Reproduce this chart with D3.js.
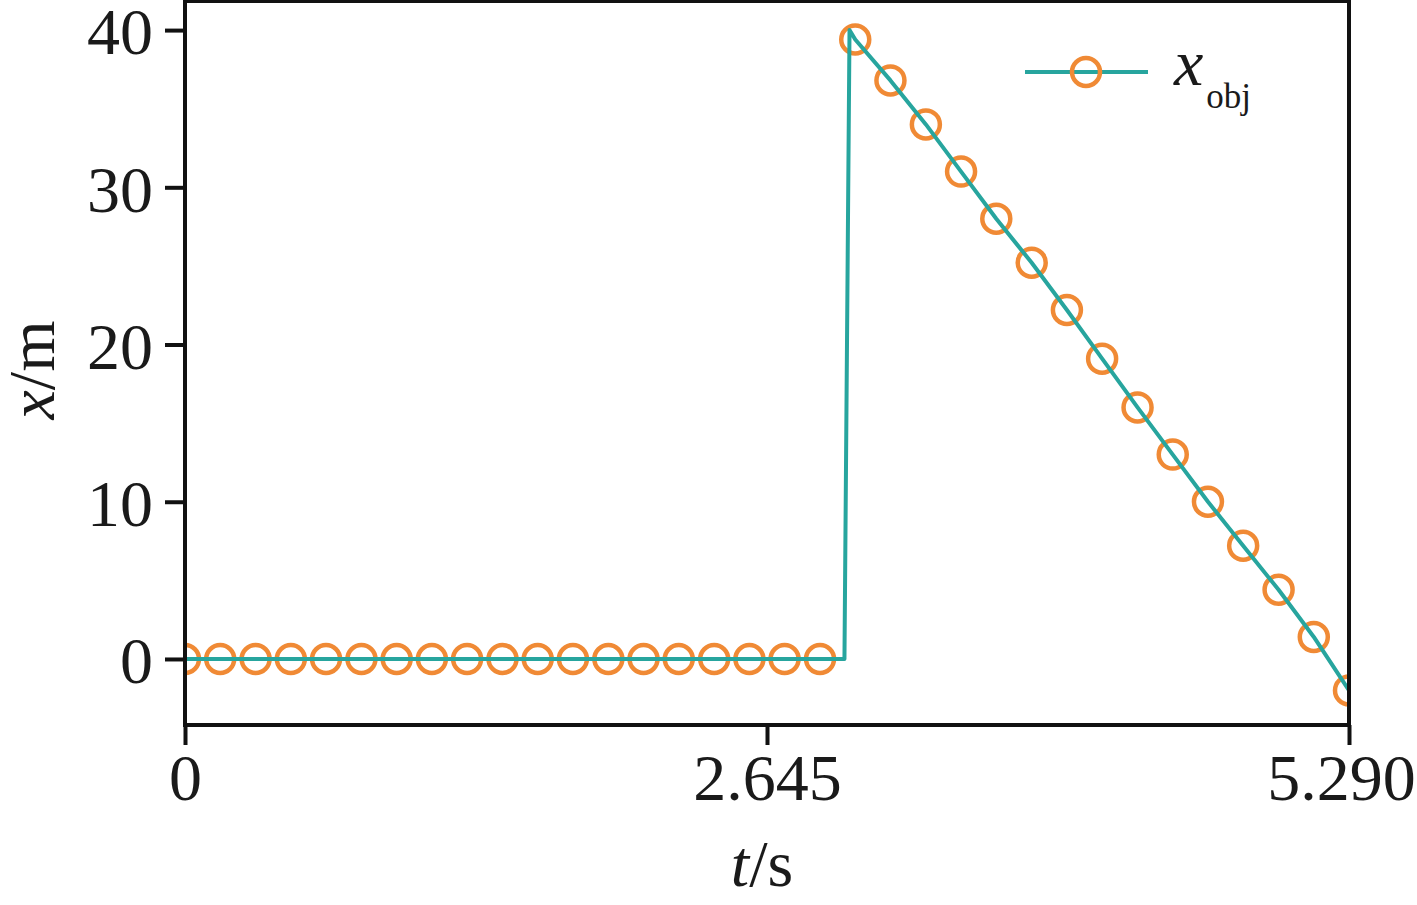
<!DOCTYPE html>
<html><head><meta charset="utf-8">
<script src="https://cdn.jsdelivr.net/npm/d3@7"></script>
<style>body{margin:0;background:#fff}svg{display:block}text{font-family:"Liberation Serif","Times New Roman",serif !important;fill:#1a1a1a}</style>
</head><body><svg id="c" width="1417" height="905"></svg>
<script>
// Data
const xTicks = [0, 2.645, 5.290];
const xTickLabels = ["0", "2.645", "5.290"];
const yTicks = [0, 10, 20, 30, 40];
// line (t, x_obj)
const lineT = [0, 2.997, 3.02, 3.046, 3.206, 3.367, 3.527, 3.687, 3.848, 4.008, 4.168, 4.329, 4.489, 4.649, 4.809, 4.970, 5.130, 5.29];
const lineX = [0, 0, 40, 39.4, 36.8, 34.0, 31.0, 28.0, 25.2, 22.2, 19.1, 16.0, 13.0, 10.0, 7.2, 4.4, 1.4, -2.0];
// markers (t, x_obj)
const markT = [0,0.160,0.321,0.481,0.641,0.802,0.962,1.122,1.282,1.443,1.603,1.763,1.924,2.084,2.244,2.405,2.565,2.725,2.886,
  3.046,3.206,3.367,3.527,3.687,3.848,4.008,4.168,4.329,4.489,4.649,4.809,4.970,5.130,5.29];
const markX = [0,0,0,0,0,0,0,0,0,0,0,0,0,0,0,0,0,0,0,
  39.4,36.8,34.0,31.0,28.0,25.2,22.2,19.1,16.0,13.0,10.0,7.2,4.4,1.4,-2.0];

const teal = "#27a59e", orange = "#f08a35";
const svg = d3.select("#c");
const L = 185, R = 1349, T = 1, B = 725;
const x = d3.scaleLinear().domain([0, 5.29]).range([L, R]);
const y = d3.scaleLinear().domain([-4.2, 41.85]).range([B, T]);

svg.append("defs").append("clipPath").attr("id","clip").append("rect")
  .attr("x", L).attr("y", T).attr("width", R-L).attr("height", B-T);

const g = svg.append("g").attr("clip-path","url(#clip)");
g.selectAll("circle").data(markT).join("circle")
  .attr("cx", (d)=>x(d)).attr("cy", (d,i)=>y(markX[i])).attr("r", 14)
  .attr("fill","none").attr("stroke", orange).attr("stroke-width", 4.5);
const line = d3.line().x((d)=>x(d)).y((d,i)=>y(lineX[i]));
g.append("path").attr("d", line(lineT)).attr("fill","none")
  .attr("stroke", teal).attr("stroke-width", 4).attr("stroke-linejoin","round");

// axes
const xAxis = d3.axisBottom(x).tickValues(xTicks).tickFormat((d,i)=>xTickLabels[i]).tickSize(20).tickSizeOuter(0).tickPadding(8);
const yAxis = d3.axisLeft(y).tickValues(yTicks).tickSize(20).tickSizeOuter(0).tickPadding(10);
const gx = svg.append("g").attr("transform", `translate(0,${B})`).call(xAxis);
const gy = svg.append("g").attr("transform", `translate(${L},0)`).call(yAxis);
[gx, gy].forEach(a=>{
  a.attr("font-family", null);
  a.select(".domain").remove();
  a.selectAll(".tick line").attr("stroke","#111").attr("stroke-width",4);
  a.selectAll(".tick text").attr("font-size",66).attr("fill","#1a1a1a");
});
gx.selectAll(".tick text").attr("dy", "0.71em").attr("y", 28)
  .attr("x", (d,i)=> i === xTicks.length-1 ? -8 : 0);
gy.selectAll(".tick text").attr("x", -32).attr("dy","0.36em");

// frame
svg.append("rect").attr("x", L).attr("y", T).attr("width", R-L).attr("height", B-T)
  .attr("fill","none").attr("stroke","#111").attr("stroke-width",4);

// axis titles
const xt = svg.append("text").attr("x", 762).attr("y", 886).attr("text-anchor","middle").attr("font-size",66);
xt.append("tspan").attr("font-style","italic").text("t");
xt.append("tspan").text("/s");
const yt = svg.append("text").attr("transform","translate(54,370) rotate(-90)").attr("text-anchor","middle").attr("font-size",66);
yt.append("tspan").attr("font-style","italic").text("x");
yt.append("tspan").text("/m");

// legend
const lg = svg.append("g");
lg.append("line").attr("x1",1025).attr("x2",1148).attr("y1",72).attr("y2",72).attr("stroke",teal).attr("stroke-width",4);
lg.append("circle").attr("cx",1086).attr("cy",72).attr("r",14).attr("fill","none").attr("stroke",orange).attr("stroke-width",4.5);
const lt = lg.append("text").attr("x",1174).attr("y",85).attr("font-size",66);
lt.append("tspan").attr("font-style","italic").text("x");
lt.append("tspan").attr("font-size",35).attr("dx",3).attr("dy",23).text("obj");
</script></body></html>
